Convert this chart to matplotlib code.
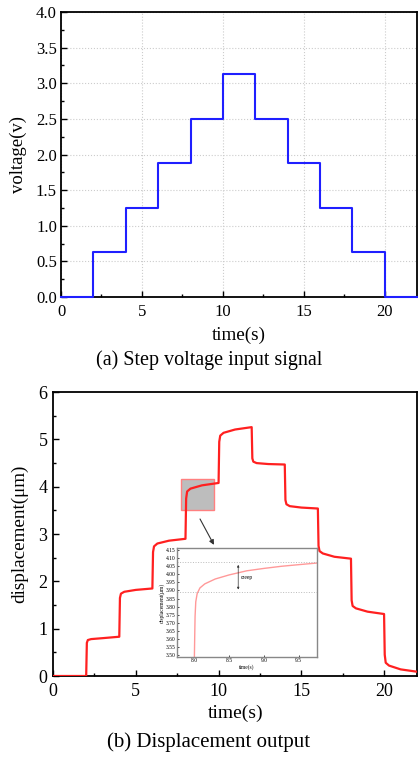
import matplotlib
matplotlib.use("Agg")
from matplotlib import pyplot as plt
from matplotlib.patches import Rectangle
from matplotlib.ticker import MultipleLocator

plt.rcParams['font.family'] = ['Liberation Serif', 'DejaVu Serif']
plt.rcParams['mathtext.fontset'] = 'stix'

# (a) step voltage input
t_volt = [0, 2, 4, 6, 8, 10, 12, 14, 16, 18, 20, 22]
voltage = [0, 0.625, 1.25, 1.875, 2.5, 3.125, 2.5, 1.875, 1.25, 0.625, 0, 0]

# (b) displacement output
t_disp = [0, 2.0, 2.04, 2.1, 2.3, 3.0, 4.0,
          4.04, 4.1, 4.3, 5.0, 6.0,
          6.04, 6.1, 6.3, 7.0, 8.0,
          8.04, 8.1, 8.3, 9.0, 10.0,
          10.04, 10.1, 10.3, 11.0, 12.0,
          12.04, 12.1, 12.3, 13.0, 14.0,
          14.04, 14.1, 14.3, 15.0, 16.0,
          16.04, 16.1, 16.3, 17.0, 18.0,
          18.04, 18.1, 18.3, 19.0, 20.0,
          20.04, 20.1, 20.3, 21.0, 22.0]
disp = [0, 0, 0.70, 0.76, 0.78, 0.80, 0.83,
        1.65, 1.74, 1.78, 1.82, 1.85,
        2.62, 2.74, 2.80, 2.86, 2.90,
        3.75, 3.90, 3.96, 4.03, 4.08,
        4.95, 5.08, 5.14, 5.21, 5.26,
        4.60, 4.53, 4.50, 4.48, 4.47,
        3.72, 3.63, 3.59, 3.56, 3.54,
        2.75, 2.64, 2.59, 2.52, 2.48,
        1.60, 1.48, 1.43, 1.36, 1.31,
        0.45, 0.28, 0.22, 0.14, 0.09]

# inset: zoom on the step at t = 8 s
t_zoom = [8.0, 8.005, 8.01, 8.02, 8.04, 8.08, 8.15, 8.3, 8.5, 8.75, 9.0, 9.25, 9.5, 9.76]
disp_zoom = [3.49, 3.62, 3.74, 3.83, 3.88, 3.915, 3.94, 3.97, 3.995, 4.02, 4.035, 4.048, 4.058, 4.068]
creep_lo, creep_hi = 3.888, 4.074

fig = plt.figure(figsize=(4.18, 7.57), dpi=100)

# ---- top panel
ax1 = fig.add_axes([0.146, 0.6077, 0.852, 0.3764])
ax1.step(t_volt, voltage, where='post', color='#1f1fff', lw=1.5, clip_on=False, zorder=3)
ax1.set_xlim(0, 22)
ax1.set_ylim(0, 4)
ax1.xaxis.set_major_locator(MultipleLocator(5))
ax1.xaxis.set_minor_locator(MultipleLocator(2.5))
ax1.yaxis.set_major_locator(MultipleLocator(0.5))
ax1.yaxis.set_minor_locator(MultipleLocator(0.25))
ax1.set_yticklabels([f"{v:.1f}" for v in ax1.get_yticks()])
ax1.grid(True, which='major', color='#cccccc', ls=':', lw=0.8)
ax1.tick_params(which='both', direction='in', labelsize=12)
ax1.tick_params(axis='x', pad=5)
ax1.tick_params(axis='y', pad=3)
ax1.tick_params(which='major', length=4, width=1)
ax1.tick_params(which='minor', length=2.5, width=1)
for s in ax1.spines.values():
    s.set_linewidth(1.3)
ax1.set_ylabel("voltage(v)", fontsize=13.5)
ax1.yaxis.set_label_coords(-0.121, 0.5)
ax1.yaxis.label.set_va('center')
ax1.set_xlabel("time(s)", fontsize=13.8)
ax1.xaxis.set_label_coords(0.5, -0.133)
ax1.xaxis.label.set_va('center')
fig.text(0.5, 1 - 360 / 757, "(a) Step voltage input signal", fontsize=14.5,
         ha='center', va='center')

# ---- bottom panel
ax2 = fig.add_axes([0.127, 0.107, 0.871, 0.375])
ax2.plot(t_disp, disp, color='#ff2020', lw=1.6, zorder=3)
ax2.set_xlim(0, 22)
ax2.set_ylim(0, 6)
ax2.xaxis.set_major_locator(MultipleLocator(5))
ax2.xaxis.set_minor_locator(MultipleLocator(2.5))
ax2.yaxis.set_major_locator(MultipleLocator(1))
ax2.yaxis.set_minor_locator(MultipleLocator(0.5))
ax2.tick_params(which='both', direction='in', labelsize=13)
ax2.tick_params(axis='x', pad=5)
ax2.tick_params(axis='y', pad=4)
ax2.tick_params(which='major', length=4, width=1)
ax2.tick_params(which='minor', length=2.5, width=1)
for s in ax2.spines.values():
    s.set_linewidth(1.3)
ax2.set_ylabel("displacement(μm)", fontsize=13.8)
ax2.yaxis.set_label_coords(-0.092, 0.5)
ax2.yaxis.label.set_va('center')
ax2.set_xlabel("time(s)", fontsize=14)
ax2.xaxis.set_label_coords(0.5, -0.130)
ax2.xaxis.label.set_va('center')
fig.text(0.5, 1 - 742 / 757, "(b) Displacement output", fontsize=15,
         ha='center', va='center')

ax2.add_patch(Rectangle((7.75, 3.5), 2.0, 0.67, facecolor='#bdbdbd',
                        edgecolor='#ff8080', lw=1.0, zorder=2))
ax2.annotate("", xy=(9.8, 2.72), xytext=(8.8, 3.37),
             arrowprops=dict(arrowstyle='-|>', color='#333333', lw=0.8,
                             mutation_scale=7), zorder=4)

# ---- inset
ax3 = fig.add_axes([0.4234, 0.132, 0.3346, 0.144])
ax3.plot(t_zoom, disp_zoom, color='#ff9999', lw=1.0)
ax3.axhline(creep_hi, color='#bbbbbb', ls=':', lw=0.7)
ax3.axhline(creep_lo, color='#bbbbbb', ls=':', lw=0.7)
ax3.annotate("", xy=(8.63, creep_hi), xytext=(8.63, creep_lo),
             arrowprops=dict(arrowstyle='<|-|>', color='#333333', lw=0.5,
                             mutation_scale=3))
ax3.text(8.67, (creep_hi + creep_lo) / 2, "creep", fontsize=4, va='center')
ax3.set_xlim(7.75, 9.76)
ax3.set_ylim(3.49, 4.16)
ax3.set_xticks([8.0, 8.5, 9.0, 9.5])
ax3.set_yticks([3.50 + 0.05 * i for i in range(14)])
ax3.set_yticklabels([f"{3.50 + 0.05 * i:.2f}" for i in range(14)])
ax3.tick_params(direction='in', labelsize=4, length=1.5, width=0.5, pad=1)
for s in ax3.spines.values():
    s.set_linewidth(1.0)
    s.set_color('#888888')
ax3.set_ylabel("displacement(μm)", fontsize=4, labelpad=1)
ax3.set_xlabel("time(s)", fontsize=4, labelpad=0.5)

fig.savefig("out.png", dpi=100)
